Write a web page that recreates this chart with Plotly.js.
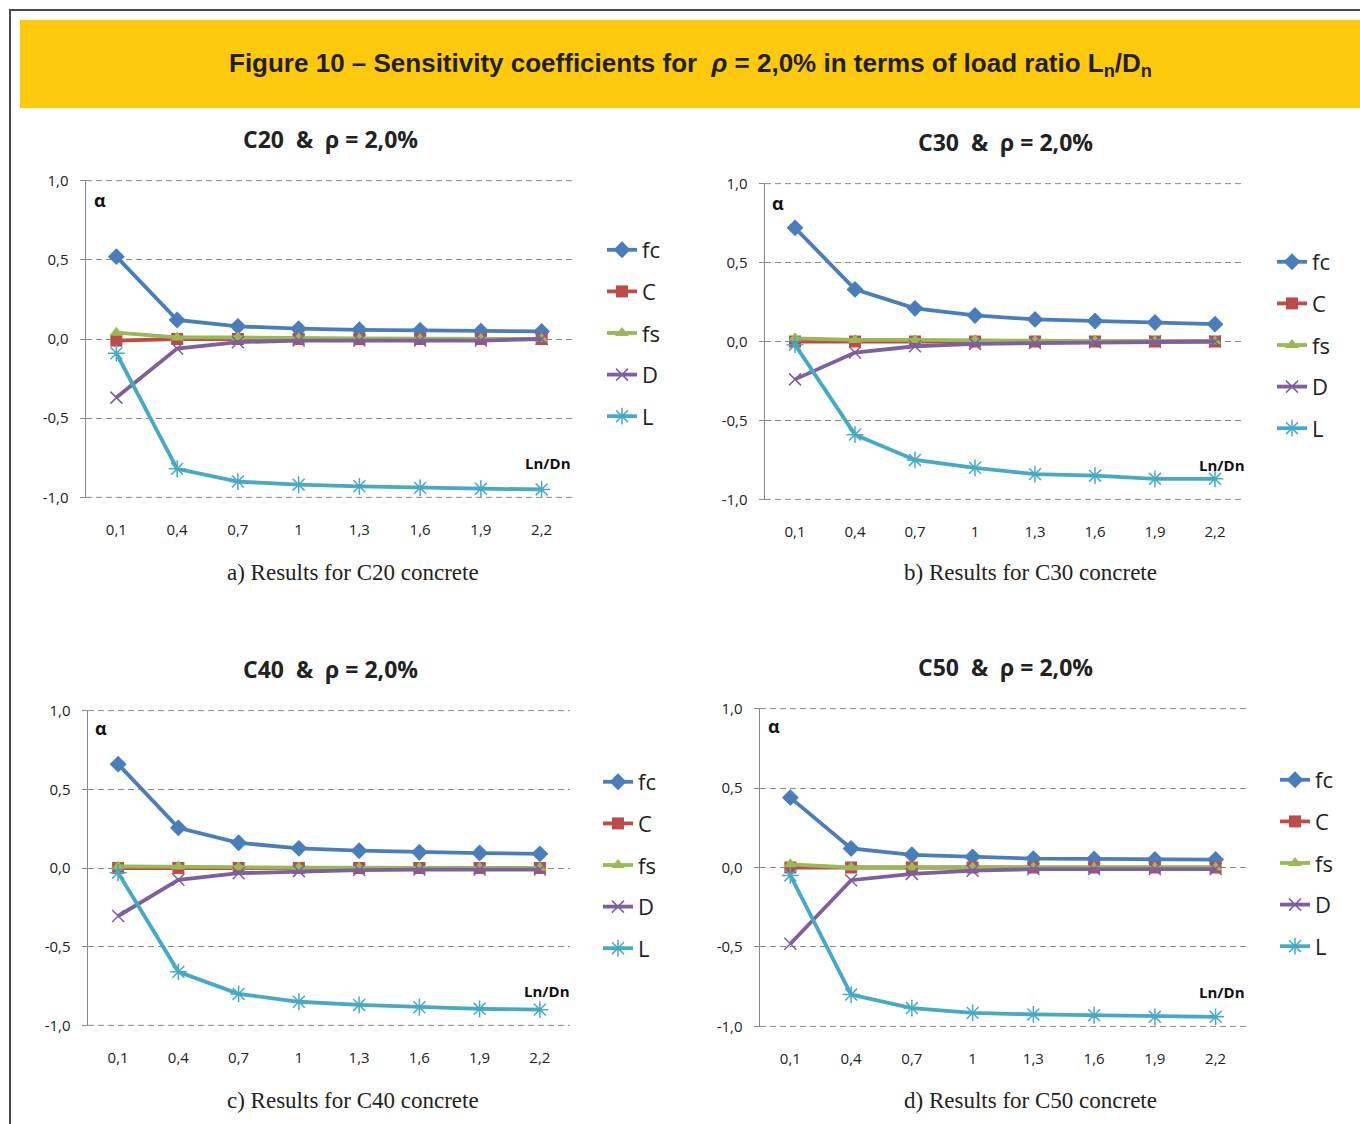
<!DOCTYPE html>
<html>
<head>
<meta charset="utf-8">
<script src="https://cdn.plot.ly/plotly-3.0.1.min.js"></script>
<style>html,body{margin:0;padding:0;background:#fff;} #chart{width:1360px;height:1124px;}</style>
</head>
<body>
<div id="chart"></div>
<script>
// ---- data ----
const loadRatio = ['0,1','0,4','0,7','1','1,3','1,6','1,9','2,2'];
const seriesNames = ['fc','C','fs','D','L'];
const yTickVals = [1, 0.5, 0, -0.5, -1];
const yTickText = ['1,0','0,5','0,0','-0,5','-1,0'];

const c20_fc = [0.52, 0.12, 0.08, 0.065, 0.058, 0.056, 0.05, 0.048];
const c20_C  = [-0.01, 0, 0, 0, 0, 0, 0, 0];
const c20_fs = [0.04, 0.01, 0.01, 0.005, 0.003, 0.002, 0.002, 0.001];
const c20_D  = [-0.37, -0.06, -0.02, -0.01, -0.01, -0.01, -0.01, 0];
const c20_L  = [-0.09, -0.82, -0.90, -0.92, -0.93, -0.94, -0.945, -0.95];

const c30_fc = [0.72, 0.33, 0.21, 0.165, 0.14, 0.13, 0.12, 0.11];
const c30_C  = [0, 0, 0, 0, 0, 0, 0, 0];
const c30_fs = [0.02, 0.01, 0.01, 0.01, 0.005, 0.003, 0.002, 0.002];
const c30_D  = [-0.24, -0.07, -0.03, -0.015, -0.01, -0.005, 0, 0];
const c30_L  = [-0.02, -0.59, -0.75, -0.80, -0.84, -0.85, -0.87, -0.87];

const c40_fc = [0.66, 0.255, 0.16, 0.125, 0.11, 0.10, 0.095, 0.09];
const c40_C  = [0, 0, 0, 0, 0, 0, 0, 0];
const c40_fs = [0.01, 0.01, 0.005, 0.003, 0.002, 0.002, 0.001, 0.001];
const c40_D  = [-0.305, -0.075, -0.033, -0.02, -0.013, -0.01, -0.01, -0.01];
const c40_L  = [-0.03, -0.66, -0.80, -0.85, -0.87, -0.885, -0.895, -0.90];

const c50_fc = [0.44, 0.12, 0.08, 0.067, 0.056, 0.054, 0.05, 0.05];
const c50_C  = [0, 0, 0, 0, 0, 0, 0, 0];
const c50_fs = [0.02, 0, 0, 0, 0, 0, 0, 0];
const c50_D  = [-0.48, -0.08, -0.04, -0.02, -0.01, -0.01, -0.01, -0.01];
const c50_L  = [-0.05, -0.80, -0.885, -0.915, -0.925, -0.93, -0.94, -0.94];

const panelTitles = ['C20  &  ρ = 2,0%', 'C30  &  ρ = 2,0%', 'C40  &  ρ = 2,0%', 'C50  &  ρ = 2,0%'];
const captions = ['a) Results for C20 concrete', 'b) Results for C30 concrete', 'c) Results for C40 concrete', 'd) Results for C50 concrete'];
const panelData = [
  [c20_fc, c20_C, c20_fs, c20_D, c20_L],
  [c30_fc, c30_C, c30_fs, c30_D, c30_L],
  [c40_fc, c40_C, c40_fs, c40_D, c40_L],
  [c50_fc, c50_C, c50_fs, c50_D, c50_L]
];

// ---- styling / layout ----
const W = 1360, H = 1124;
const X = v => v / W;
const Y = v => 1 - v / H;

const colors = ['#4A7EBB', '#BE4B48', '#98B954', '#7D60A0', '#46AAC5'];
const symbols = ['diamond', 'square', 'triangle-up', 'x-thin-open', 'asterisk-open'];
const msizes = [13, 12, 12, 12, 14];
const gridColor = '#8a8a8a';
const gridDash = '6px,4px';

// pixel boxes of the plotting areas
const boxes = [
  {x0: 86,  x1: 572,  y0: 180, y1: 498, tx: 330,  ty: 139, cx: 353,  cy: 572,  ax: 100, ay: 200, lx: 548,  ly: 463, legx: 602,  legy: 229},
  {x0: 765, x1: 1245, y0: 183, y1: 500, tx: 1005, ty: 142, cx: 1030, cy: 572,  ax: 778, ay: 203, lx: 1222, ly: 465, legx: 1272, legy: 241},
  {x0: 88,  x1: 570,  y0: 710, y1: 1026, tx: 330, ty: 669, cx: 353,  cy: 1100, ax: 101, ay: 728, lx: 547,  ly: 991, legx: 598,  legy: 761},
  {x0: 760, x1: 1246, y0: 708, y1: 1027, tx: 1005, ty: 667, cx: 1030, cy: 1100, ax: 774, ay: 726, lx: 1222, ly: 992, legx: 1275, legy: 759}
];

const traces = [];
const layout = {
  width: W, height: H,
  margin: {l: 0, r: 0, t: 0, b: 0},
  paper_bgcolor: '#ffffff',
  plot_bgcolor: 'rgba(0,0,0,0)',
  font: {family: 'Open Sans, sans-serif', color: '#222'},
  showlegend: true,
  shapes: [
    {type: 'line', xref: 'paper', yref: 'paper', x0: X(9), x1: X(1360), y0: Y(10), y1: Y(10), line: {color: '#4a4a4a', width: 2}},
    {type: 'line', xref: 'paper', yref: 'paper', x0: X(10), x1: X(10), y0: Y(9), y1: Y(1124), line: {color: '#4a4a4a', width: 2}},
    {type: 'rect', xref: 'paper', yref: 'paper', x0: X(20), x1: X(1360), y0: Y(108), y1: Y(20), line: {width: 0}, fillcolor: '#FDC90D', layer: 'below'}
  ],
  annotations: [
    {xref: 'paper', yref: 'paper', x: X(690), y: Y(65), xanchor: 'center', yanchor: 'middle', showarrow: false,
     text: 'Figure 10 – Sensitivity coefficients for  <i>ρ</i> = 2,0% in terms of load ratio L<sub>n</sub>/D<sub>n</sub>',
     font: {family: 'Liberation Sans Narrow, Liberation Sans, sans-serif', size: 26, color: '#231F20', weight: 'bold'}}
  ]
};

boxes.forEach((b, i) => {
  const n = i === 0 ? '' : String(i + 1);
  const legName = 'legend' + n;
  seriesNames.forEach((s, k) => {
    traces.push({
      type: 'scatter', mode: 'lines+markers',
      x: loadRatio, y: panelData[i][k], name: s,
      xaxis: 'x' + n, yaxis: 'y' + n,
      legend: legName, legendgroup: 'g' + i + '_' + k,
      line: {color: colors[k], width: 3.8},
      marker: {symbol: symbols[k], size: msizes[k], color: colors[k],
               line: {color: colors[k], width: (k >= 3 ? 1.5 : 0)}},
      hoverinfo: 'skip'
    });
  });
  layout['xaxis' + n] = {
    domain: [X(b.x0), X(b.x1)], anchor: 'y' + n,
    type: 'category', categoryorder: 'array', categoryarray: loadRatio,
    range: [-0.5, 7.5], showgrid: false, zeroline: false, showline: false,
    ticks: '', tickfont: {size: 15, color: '#222', family: 'Open Sans, sans-serif'},
    ticklabelstandoff: 21, fixedrange: true
  };
  layout['yaxis' + n] = {
    domain: [Y(b.y1), Y(b.y0)], anchor: 'x' + n,
    range: [-1.004, 1.004], tickvals: yTickVals, ticktext: yTickText,
    showgrid: true, gridcolor: gridColor, gridwidth: 1, griddash: gridDash,
    zeroline: false, showline: true, linecolor: gridColor, linewidth: 1.5,
    ticks: 'outside', ticklen: 5, tickcolor: gridColor,
    tickfont: {size: 15, color: '#222', family: 'Open Sans, sans-serif'},
    ticklabelstandoff: 8, fixedrange: true
  };
  // top and bottom gridlines (at the range ends)
  [yTickVals[0], yTickVals[yTickVals.length - 1]].forEach(v => {
    layout.shapes.push({type: 'line', xref: 'x' + n + ' domain', yref: 'y' + n,
      x0: 0, x1: 1, y0: v, y1: v, layer: 'below',
      line: {color: gridColor, width: 1, dash: gridDash}});
  });
  layout[legName] = {
    x: X(b.legx), y: Y(b.legy), xanchor: 'left', yanchor: 'top',
    bgcolor: 'rgba(0,0,0,0)', borderwidth: 0,
    font: {size: 22, color: '#222', family: 'Open Sans, sans-serif'},
    traceorder: 'grouped', tracegroupgap: 10, itemclick: false, itemdoubleclick: false
  };
  layout.annotations.push(
    {xref: 'paper', yref: 'paper', x: X(b.tx), y: Y(b.ty), xanchor: 'center', yanchor: 'middle', showarrow: false,
     text: '<b>' + panelTitles[i] + '</b>', font: {size: 23, color: '#222', family: 'Open Sans, sans-serif'}},
    {xref: 'paper', yref: 'paper', x: X(b.cx), y: Y(b.cy), xanchor: 'center', yanchor: 'middle', showarrow: false,
     text: captions[i], font: {size: 23, color: '#231F20', family: 'Liberation Serif, serif'}},
    {xref: 'paper', yref: 'paper', x: X(b.ax), y: Y(b.ay), xanchor: 'center', yanchor: 'middle', showarrow: false,
     text: '<b>α</b>', font: {size: 18, color: '#111', family: 'Open Sans, sans-serif'}},
    {xref: 'paper', yref: 'paper', x: X(b.lx), y: Y(b.ly), xanchor: 'center', yanchor: 'middle', showarrow: false,
     text: '<b>Ln/Dn</b>', font: {size: 15, color: '#111', family: 'Open Sans, sans-serif'}}
  );
});

Plotly.newPlot('chart', traces, layout, {staticPlot: true, displayModeBar: false});
</script>
</body>
</html>
